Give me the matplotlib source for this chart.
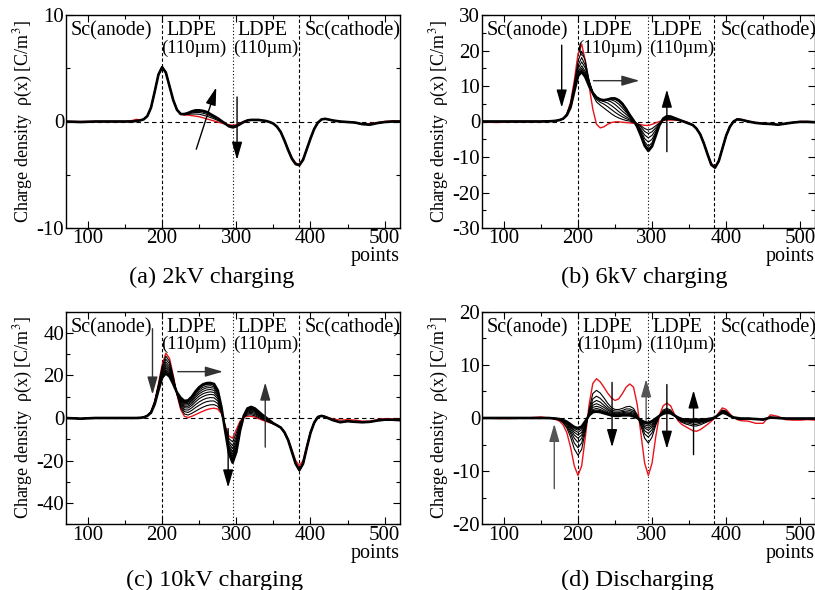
import numpy as np
import matplotlib
matplotlib.use('Agg')
import matplotlib.pyplot as plt

plt.rcParams['font.family'] = ['Liberation Serif', 'DejaVu Serif']
plt.rcParams['mathtext.fontset'] = 'stix'
plt.rcParams['axes.unicode_minus'] = False

# sample positions (points)
points = np.array([70, 90, 110, 130, 150] + list(range(160, 421, 5)) + list(range(430, 521, 10)))

# ---------------- (a) 2kV charging ----------------
a_red_left = [0, 0, 0, 0, 0, 0.1, 0.2, 0.15, 0.2, 0.5, 1.3, 2.8, 4.4, 5.1, 4.6, 3.3, 2.0, 1.1]
a_red_mid = [0.7, 0.6, 0.6, 0.55, 0.5, 0.45, 0.35, 0.25, 0.15, 0.05, -0.05, -0.15, -0.25, -0.3, -0.35, -0.3, -0.15, 0.0]
a_red_right = [0.1, 0.15, 0.15, 0.15, 0.1, 0.05, -0.05, -0.2, -0.5, -1.0,
               -1.8, -2.6, -3.4, -3.9, -4.0, -3.5, -2.6, -1.6, -0.7, -0.1,
               0.2, 0.25, 0.1, 0.0, -0.05, -0.1, -0.25, -0.2, -0.1, 0.0, 0.05, 0.05]
a_blk_left = [0, -0.05, 0, 0, 0, 0, 0.05, 0.1, 0.2, 0.5, 1.3, 2.8, 4.4, 5.1, 4.6, 3.3, 2.0, 1.1]
a_blk_right = [0.1, 0.15, 0.15, 0.15, 0.1, 0.05, -0.05, -0.2, -0.5, -1.0,
               -1.8, -2.7, -3.5, -4.0, -4.1, -3.6, -2.6, -1.6, -0.7, -0.1,
               0.2, 0.25, 0.1, 0.0, -0.05, -0.1, -0.25, -0.3, -0.15, -0.05, 0.0, 0.0]
a_blk_mid = [
    [0.7, 0.65, 0.68, 0.7, 0.7, 0.68, 0.6, 0.5, 0.38, 0.25, 0.1, -0.05, -0.2, -0.35, -0.42, -0.38, -0.2, -0.02],
    [0.7, 0.67, 0.72, 0.8, 0.85, 0.85, 0.78, 0.68, 0.52, 0.36, 0.18, 0.0, -0.2, -0.4, -0.48, -0.42, -0.22, -0.03],
    [0.7, 0.68, 0.76, 0.88, 0.95, 0.96, 0.9, 0.8, 0.62, 0.44, 0.24, 0.03, -0.2, -0.43, -0.52, -0.44, -0.24, -0.04],
    [0.7, 0.7, 0.8, 0.95, 1.05, 1.05, 1.0, 0.9, 0.7, 0.5, 0.3, 0.05, -0.2, -0.45, -0.55, -0.45, -0.25, -0.05],
]

# ---------------- (b) 6kV charging ----------------
b_red_left = [0, -0.3, 0, 0, 0, 0, 0.1, 0.2, 0.4]
b_red_mid = [0.8, 2.2, 5.5, 11.5, 19, 21.8, 17, 10, 3.5, -0.8,
             -1.8, -1.5, -0.8, -0.3, -0.1, -0.1, -0.2, -0.3, -0.4, -0.5,
             -0.7, -0.9, -1.1, -1.1, -0.8, -0.4, 0.0, 0.3, 0.4, 0.4,
             0.4, 0.3, 0.2, 0.0, -0.4]
b_red_right = [-1.0, -2.0, -3.5, -6.0, -9.0, -11.8, -12.8, -11.0, -7.5, -4.0, -1.5, 0.0, 0.7, 0.6,
               0.1, -0.3, -0.5, -0.6, -0.9, -0.6, -0.2, 0.0, 0.0, -0.1]
b_blk_left = [0, 0, 0, 0, 0, 0.05, 0.1, 0.2, 0.4]
b_blk_right = [-1.0, -2.0, -3.6, -6.2, -9.3, -12.2, -13.0, -11.2, -7.6, -4.0, -1.5, 0.0, 0.6, 0.5,
               0.0, -0.4, -0.6, -0.7, -0.9, -0.6, -0.3, -0.1, -0.1, -0.2]
b_blk_mid = [
    [0.8, 2.1, 5.0, 10.5, 17.0, 19.8, 17.0, 11.5, 7.5, 5.5, 4.6, 3.8, 3.0, 2.2, 1.5, 1.0, 0.6, 0.3, 0.1, -0.2,
     -0.6, -1.2, -2.0, -2.4, -2.0, -1.2, -0.4, 0.3, 0.6, 0.6, 0.5, 0.3, 0.1, -0.1, -0.5],
    [0.8, 2.0, 4.8, 10.0, 15.8, 18.0, 15.8, 11.5, 8.0, 6.2, 5.4, 4.9, 4.2, 3.4, 2.6, 1.9, 1.3, 0.8, 0.4, 0.0,
     -0.6, -1.6, -2.8, -3.4, -2.9, -1.8, -0.6, 0.3, 0.8, 0.8, 0.6, 0.4, 0.1, -0.1, -0.5],
    [0.8, 1.9, 4.6, 9.5, 14.8, 16.8, 15.0, 11.3, 8.3, 6.6, 5.9, 5.6, 5.2, 4.5, 3.7, 2.8, 2.0, 1.3, 0.7, 0.1,
     -0.8, -2.2, -3.8, -4.6, -3.9, -2.4, -0.8, 0.4, 1.0, 1.0, 0.8, 0.5, 0.2, -0.1, -0.5],
    [0.8, 1.9, 4.4, 9.2, 14.0, 15.7, 14.0, 11.0, 8.3, 6.8, 6.2, 6.0, 5.9, 5.5, 4.8, 3.9, 2.9, 2.0, 1.1, 0.3,
     -0.8, -2.6, -4.8, -5.8, -5.0, -3.0, -1.0, 0.5, 1.2, 1.2, 0.9, 0.5, 0.2, -0.2, -0.6],
    [0.8, 1.8, 4.2, 8.9, 13.5, 15.0, 13.5, 10.7, 8.2, 6.8, 6.2, 6.1, 6.2, 6.1, 5.7, 4.9, 3.8, 2.6, 1.4, 0.3,
     -1.0, -3.1, -5.7, -7.0, -6.0, -3.5, -1.0, 0.6, 1.3, 1.3, 1.0, 0.6, 0.2, -0.2, -0.6],
    [0.8, 1.8, 4.1, 8.7, 13.1, 14.5, 13.0, 10.4, 8.1, 6.8, 6.2, 6.0, 6.2, 6.4, 6.3, 5.6, 4.5, 3.1, 1.6, 0.3,
     -1.3, -3.6, -6.3, -7.7, -6.6, -3.8, -1.0, 0.7, 1.4, 1.4, 1.0, 0.6, 0.2, -0.2, -0.6],
    [0.8, 1.8, 4.0, 8.5, 12.8, 14.0, 12.5, 10.0, 8.0, 6.8, 6.2, 6.0, 6.2, 6.5, 6.5, 6.0, 5.0, 3.5, 1.8, 0.3,
     -1.5, -4.0, -6.8, -8.3, -7.0, -4.0, -1.0, 0.8, 1.5, 1.4, 1.0, 0.6, 0.2, -0.2, -0.6],
]

# ---------------- (c) 10kV charging ----------------
c_red_left = [0, -0.3, 0, 0, 0, 0, 0, 0.1, 0.3]
c_red_mid = [1.0, 3.0, 8.0, 16, 25, 30.5, 28, 20, 11, 4,
             0.8, 0.2, 0.8, 1.6, 2.4, 3.2, 3.9, 4.4, 4.6, 4.2,
             2.0, -3.5, -8.5, -9.5, -5.5, -1.5, 0.3, 0.8, 0.8, 0.4,
             -0.3, -1.0, -1.6, -2.2, -2.8]
c_red_right = [-3.5, -4.5, -6.5, -10, -15, -20, -22.5, -20, -13, -6.5, -2, 0.5, 1.0, 0.7,
               -0.5, -1.0, -0.8, -1.0, -1.5, -1.5, -0.8, -0.3, -0.5, -0.8]
c_blk_left = [0, -0.3, 0, 0, 0, 0, 0, 0.1, 0.3]
c_blk_right = [-3.5, -4.5, -6.8, -10.5, -16, -21.5, -24.5, -21.5, -14, -7, -2.2, 0.5, 1.0, 0.5,
               -1.0, -2.0, -1.5, -1.8, -2.0, -1.8, -1.2, -0.8, -0.8, -1.0]
c_blk_mid = [
    [1.0, 2.9, 7.8, 15.5, 24.1, 29.1, 26.7, 19.4, 11.2, 4.8, 1.9, 1.4, 2.2, 3.2, 4.2, 5.1, 5.8, 6.2, 6.3, 5.5,
     2.5, -3.9, -9.7, -11.2, -7.1, -2.2, 0.4, 1.4, 1.5, 1.0, 0.2, -0.6, -1.3, -2.1, -2.8],
    [1.0, 2.9, 7.6, 15.1, 23.2, 27.7, 25.5, 18.8, 11.3, 5.7, 3.0, 2.6, 3.6, 4.9, 6.0, 7.0, 7.7, 8.0, 8.0, 6.8,
     2.9, -4.3, -10.9, -13.0, -8.7, -2.9, 0.5, 1.9, 2.1, 1.6, 0.7, -0.3, -1.1, -1.9, -2.7],
    [1.0, 2.8, 7.4, 14.7, 22.4, 26.4, 24.3, 18.3, 11.4, 6.4, 3.9, 3.7, 4.8, 6.3, 7.6, 8.6, 9.3, 9.6, 9.5, 8.0,
     3.3, -4.6, -11.9, -14.4, -10.0, -3.4, 0.6, 2.4, 2.7, 2.2, 1.1, 0.1, -0.8, -1.8, -2.7],
    [1.0, 2.7, 7.2, 14.4, 21.7, 25.3, 23.3, 17.8, 11.6, 7.0, 4.8, 4.7, 5.9, 7.6, 9.1, 10.1, 10.8, 11.1, 10.9, 9.0,
     3.7, -4.9, -12.9, -15.8, -11.3, -4.0, 0.7, 2.8, 3.2, 2.7, 1.5, 0.4, -0.6, -1.7, -2.6],
    [1.0, 2.7, 7.0, 14.1, 21.1, 24.3, 22.5, 17.4, 11.7, 7.6, 5.5, 5.5, 6.8, 8.7, 10.3, 11.4, 12.0, 12.3, 12.0, 9.9,
     4.0, -5.1, -13.7, -17.0, -12.3, -4.4, 0.8, 3.2, 3.7, 3.1, 1.8, 0.6, -0.4, -1.6, -2.6],
    [1.0, 2.6, 6.9, 13.8, 20.6, 23.5, 21.7, 17.0, 11.7, 8.1, 6.1, 6.2, 7.6, 9.7, 11.4, 12.5, 13.2, 13.4, 13.0, 10.7,
     4.2, -5.4, -14.4, -18.0, -13.3, -4.8, 0.8, 3.5, 4.1, 3.4, 2.1, 0.9, -0.3, -1.5, -2.6],
    [1.0, 2.6, 6.8, 13.5, 20.1, 22.7, 21.0, 16.7, 11.8, 8.5, 6.7, 6.8, 8.3, 10.5, 12.3, 13.5, 14.2, 14.3, 14.0, 11.4,
     4.5, -5.6, -15.1, -18.9, -14.1, -5.2, 0.9, 3.8, 4.4, 3.8, 2.4, 1.1, -0.1, -1.4, -2.6],
    [1.0, 2.6, 6.7, 13.3, 19.7, 22.0, 20.4, 16.4, 11.9, 8.9, 7.2, 7.4, 9.0, 11.3, 13.2, 14.4, 15.0, 15.2, 14.7, 12.0,
     4.7, -5.7, -15.6, -19.7, -14.8, -5.5, 0.9, 4.1, 4.7, 4.0, 2.6, 1.2, 0.0, -1.3, -2.5],
    [1.0, 2.5, 6.6, 13.2, 19.3, 21.5, 19.9, 16.2, 12.0, 9.2, 7.6, 7.9, 9.5, 11.9, 13.9, 15.2, 15.8, 15.9, 15.4, 12.6,
     4.9, -5.9, -16.1, -20.4, -15.5, -5.8, 1.0, 4.3, 5.0, 4.3, 2.8, 1.4, 0.1, -1.2, -2.5],
    [1.0, 2.5, 6.5, 13.0, 19.0, 21.0, 19.5, 16.0, 12.0, 9.5, 8.0, 8.3, 10.0, 12.5, 14.5, 15.8, 16.4, 16.5, 16.0, 13.0,
     5.0, -6.0, -16.5, -21.0, -16.0, -6.0, 1.0, 4.5, 5.2, 4.5, 3.0, 1.5, 0.2, -1.2, -2.5],
]

# ---------------- (d) Discharging ----------------
d_red_left = [0, -0.1, -0.1, 0, 0.2, 0, -0.1]
d_red_mid = [-0.3, -0.6, -1.3, -2.8, -5.5, -9.0, -10.8, -9.0, -3.5, 2.5,
             6.5, 7.4, 6.8, 5.8, 4.7, 3.8, 3.3, 3.6, 4.6, 5.8,
             6.4, 5.8, 2.5, -3.0, -8.5, -10.8, -8.5, -3.5, 0.5, 2.3,
             2.8, 2.3, 0.8, -0.5, -1.2, -1.6, -2.0, -2.4, -2.5, -2.2,
             -1.7, -1.2, -0.6, 0.0, 1.0, 1.9, 1.6, 0.8, 0.1, -0.3,
             -0.5]
d_red_right = [-0.6, -1.0, -1.0, 0.6, 0.3, -0.3, -0.4, -0.4, -0.3, -0.4]
d_blk_left = [0, 0, 0, 0, 0, 0, -0.05]
d_blk_right = [-0.1, -0.2, -0.3, 0.1, 0.0, -0.1, -0.1, -0.1, -0.1, -0.1]
d_blk_mid = [
    [-0.2, -0.4, -0.9, -1.9, -3.6, -5.8, -7.0, -5.9, -2.4, 1.6, 4.6, 5.2, 4.7, 3.8, 2.8, 2.0, 1.6, 1.6, 1.8, 2.1,
     2.2, 1.8, 0.6, -1.5, -3.8, -4.7, -3.6, -1.4, 0.4, 1.5, 1.8, 1.5, 0.6, -0.3, -0.8, -1.1, -1.3, -1.5, -1.5, -1.3,
     -1.0, -0.7, -0.4, 0.0, 0.8, 1.5, 1.3, 0.6, 0.1, -0.2, -0.3],
    [-0.2, -0.3, -0.8, -1.6, -2.9, -4.7, -5.6, -4.7, -1.9, 1.3, 3.6, 4.1, 3.7, 3.0, 2.2, 1.6, 1.3, 1.3, 1.4, 1.7,
     1.7, 1.4, 0.4, -1.2, -3.0, -3.6, -2.8, -1.0, 0.4, 1.3, 1.6, 1.3, 0.6, -0.2, -0.6, -0.9, -1.0, -1.2, -1.2, -1.0,
     -0.8, -0.6, -0.3, 0.0, 0.7, 1.4, 1.2, 0.5, 0.1, -0.1, -0.2],
    [-0.2, -0.3, -0.7, -1.3, -2.5, -3.8, -4.6, -3.8, -1.5, 1.1, 2.9, 3.3, 3.0, 2.4, 1.8, 1.3, 1.0, 1.0, 1.2, 1.3,
     1.4, 1.1, 0.3, -1.0, -2.4, -2.9, -2.2, -0.8, 0.4, 1.2, 1.4, 1.2, 0.6, -0.1, -0.5, -0.7, -0.8, -0.9, -0.9, -0.8,
     -0.7, -0.5, -0.3, 0.1, 0.7, 1.3, 1.1, 0.5, 0.1, -0.1, -0.2],
    [-0.1, -0.3, -0.6, -1.1, -2.1, -3.2, -3.8, -3.2, -1.3, 0.9, 2.4, 2.7, 2.4, 2.0, 1.5, 1.1, 0.8, 0.8, 1.0, 1.1,
     1.1, 0.9, 0.2, -0.8, -1.9, -2.3, -1.7, -0.6, 0.4, 1.1, 1.3, 1.1, 0.5, -0.1, -0.4, -0.6, -0.7, -0.7, -0.7, -0.7,
     -0.6, -0.4, -0.2, 0.1, 0.7, 1.2, 1.0, 0.5, 0.1, -0.1, -0.2],
    [-0.1, -0.3, -0.5, -1.0, -1.8, -2.7, -3.2, -2.7, -1.1, 0.8, 2.0, 2.2, 2.0, 1.6, 1.2, 0.9, 0.7, 0.7, 0.8, 0.9,
     0.9, 0.7, 0.2, -0.7, -1.6, -1.9, -1.4, -0.4, 0.4, 1.0, 1.2, 1.1, 0.5, 0.0, -0.4, -0.5, -0.6, -0.6, -0.6, -0.6,
     -0.5, -0.3, -0.2, 0.1, 0.7, 1.1, 0.9, 0.5, 0.1, -0.1, -0.2],
    [-0.1, -0.2, -0.5, -0.9, -1.6, -2.3, -2.7, -2.2, -0.9, 0.7, 1.6, 1.8, 1.6, 1.3, 1.0, 0.7, 0.6, 0.6, 0.7, 0.7,
     0.8, 0.5, 0.1, -0.6, -1.3, -1.5, -1.1, -0.3, 0.4, 0.9, 1.1, 1.0, 0.5, 0.0, -0.3, -0.4, -0.5, -0.5, -0.5, -0.5,
     -0.4, -0.3, -0.1, 0.1, 0.6, 1.1, 0.9, 0.4, 0.1, 0.0, -0.1],
    [-0.1, -0.2, -0.4, -0.8, -1.4, -2.0, -2.3, -1.9, -0.7, 0.6, 1.4, 1.5, 1.4, 1.1, 0.9, 0.6, 0.5, 0.5, 0.6, 0.6,
     0.6, 0.4, 0.0, -0.5, -1.0, -1.2, -0.8, -0.2, 0.4, 0.9, 1.1, 0.9, 0.5, 0.1, -0.2, -0.4, -0.4, -0.4, -0.4, -0.4,
     -0.4, -0.2, -0.1, 0.1, 0.6, 1.0, 0.8, 0.4, 0.1, 0.0, -0.1],
    [-0.1, -0.2, -0.4, -0.7, -1.2, -1.7, -1.9, -1.6, -0.6, 0.5, 1.1, 1.2, 1.1, 0.9, 0.7, 0.5, 0.4, 0.4, 0.5, 0.5,
     0.5, 0.3, 0.0, -0.4, -0.8, -0.9, -0.6, -0.1, 0.4, 0.8, 1.0, 0.9, 0.5, 0.1, -0.2, -0.3, -0.3, -0.3, -0.3, -0.3,
     -0.3, -0.2, -0.1, 0.1, 0.6, 1.0, 0.8, 0.4, 0.1, 0.0, -0.1],
]

region_labels = [('Sc(anode)', 77, 0.925, 14.5), ('LDPE', 206, 0.925, 14.5),
                 ('(110\u00b5m)', 199, 0.845, 13.5), ('LDPE', 301, 0.925, 14.5),
                 ('(110\u00b5m)', 296, 0.845, 13.5), ('Sc(cathode)', 392, 0.925, 14.5)]
titles = ['(a) 2kV charging', '(b) 6kV charging', '(c) 10kV charging', '(d) Discharging']


def build(left, mid, right):
    arr = np.array(list(left) + list(mid) + list(right), dtype=float)
    assert len(arr) == len(points), (len(left), len(mid), len(right))
    return arr


W, H = 815, 590
fig = plt.figure(figsize=(W / 100, H / 100), dpi=100)


def px_axes(l, t, r, b):
    return fig.add_axes([l / W, 1 - b / H, (r - l) / W, (b - t) / H])


panels = [
    dict(box=(65.7, 15, 399.5, 228), red=(a_red_left, a_red_mid, a_red_right),
         blk=(a_blk_left, a_blk_mid, a_blk_right), ylim=(-10, 10),
         ymaj=[-10, 0, 10], ymin=[-5, 5],
         arrows=[(246, -2.6, 273, 3.2, 'black'), (301, 2.3, 301, -3.6, 'black')],
         title_xy=(212, 277)),
    dict(box=(481.7, 15, 815, 228), red=(b_red_left, b_red_mid, b_red_right),
         blk=(b_blk_left, b_blk_mid, b_blk_right), ylim=(-30, 30),
         ymaj=[-30, -20, -10, 0, 10, 20, 30], ymin=[-25, -15, -5, 5, 15, 25],
         arrows=[(178, 21.5, 178, 3.9, 'black'), (221, 11.5, 283, 11.5, '#333333'),
                 (320, -8.5, 320, 9.0, 'black')],
         title_xy=(644, 277)),
    dict(box=(65.7, 311.7, 399.5, 524.3), red=(c_red_left, c_red_mid, c_red_right),
         blk=(c_blk_left, c_blk_mid, c_blk_right), ylim=(-50, 50),
         ymaj=[-40, -20, 0, 20, 40], ymin=[-50, -30, -10, 10, 30, 50],
         arrows=[(187, 42, 187, 11, '#333333'), (221, 21.8, 282, 21.8, '#333333'),
                 (289, -5, 289, -32.7, 'black'), (339, -13.7, 339, 16.7, '#333333')],
         title_xy=(215, 580)),
    dict(box=(481.7, 311.7, 815, 524.3), red=(d_red_left, d_red_mid, d_red_right),
         blk=(d_blk_left, d_blk_mid, d_blk_right), ylim=(-20, 20),
         ymaj=[-20, -10, 0, 10, 20], ymin=[-15, -5, 5, 15],
         arrows=[(168, -13.3, 168, -1.1, '#555555'), (246, 6.7, 246, -5.5, 'black'),
                 (292, -0.5, 292, 7.3, '#555555'), (320, 6.3, 320, -5.8, 'black'),
                 (356, -6.9, 356, 5.2, 'black')],
         title_xy=(637, 580)),
]

for i, p in enumerate(panels):
    ax = px_axes(*p['box'])
    red = build(*p['red'])
    left, mids, right = p['blk']
    ax.plot(points, red, color='#e8141b', lw=1.0, zorder=3)
    for k, mid in enumerate(mids):
        last = (k == len(mids) - 1)
        ax.plot(points, build(left, mid, right), color='black',
                lw=1.9 if last else 0.8, zorder=4 if last else 3.5)
    ax.axhline(0, color='black', lw=0.8, ls=(0, (4, 3)), zorder=2)
    ax.axvline(200, color='black', lw=0.8, ls=(0, (3, 2)), zorder=2)
    ax.axvline(295, color='black', lw=0.8, ls=(0, (1, 2)), zorder=2)
    ax.axvline(384, color='black', lw=0.8, ls=(0, (3, 2)), zorder=2)

    ax.set_xlim(70, 520)
    ax.set_ylim(*p['ylim'])
    ax.set_xticks([100, 200, 300, 400, 500])
    ax.set_xticks([150, 250, 350, 450], minor=True)
    ax.set_yticks(p['ymaj'])
    ax.set_yticks(p['ymin'], minor=True)
    ax.tick_params(which='both', direction='in', top=True, right=True, labelsize=15,
                   pad=1, width=0.8)
    ax.tick_params(which='major', length=5)
    ax.tick_params(which='minor', length=2.8)
    for s in ax.spines.values():
        s.set_linewidth(1.0)

    ax.set_ylabel('Charge density  \u03c1(x) [C/m$^3$]', fontsize=13)
    ax.yaxis.set_label_coords(-0.092, 0.5)

    tr = ax.get_xaxis_transform()
    for txt, xv, yf, fs in region_labels:
        ax.text(xv, yf, txt, transform=tr, ha='left', va='center', fontsize=fs,
                clip_on=False, zorder=6)

    for (x0, y0, x1, y1, c) in p['arrows']:
        ax.annotate('', xy=(x1, y1), xytext=(x0, y0),
                    arrowprops=dict(arrowstyle='-|>,head_length=0.9,head_width=0.26',
                                    mutation_scale=12, color=c, lw=1.0,
                                    shrinkA=0, shrinkB=0), zorder=7)

    ax.text(1.0, -0.135, 'points', transform=ax.transAxes, ha='right', va='center',
            fontsize=14.5)
    tx, ty = p['title_xy']
    fig.text(tx / W, 1 - ty / H, titles[i], ha='center', va='center', fontsize=17.5)

fig.savefig('out.png', dpi=100)
